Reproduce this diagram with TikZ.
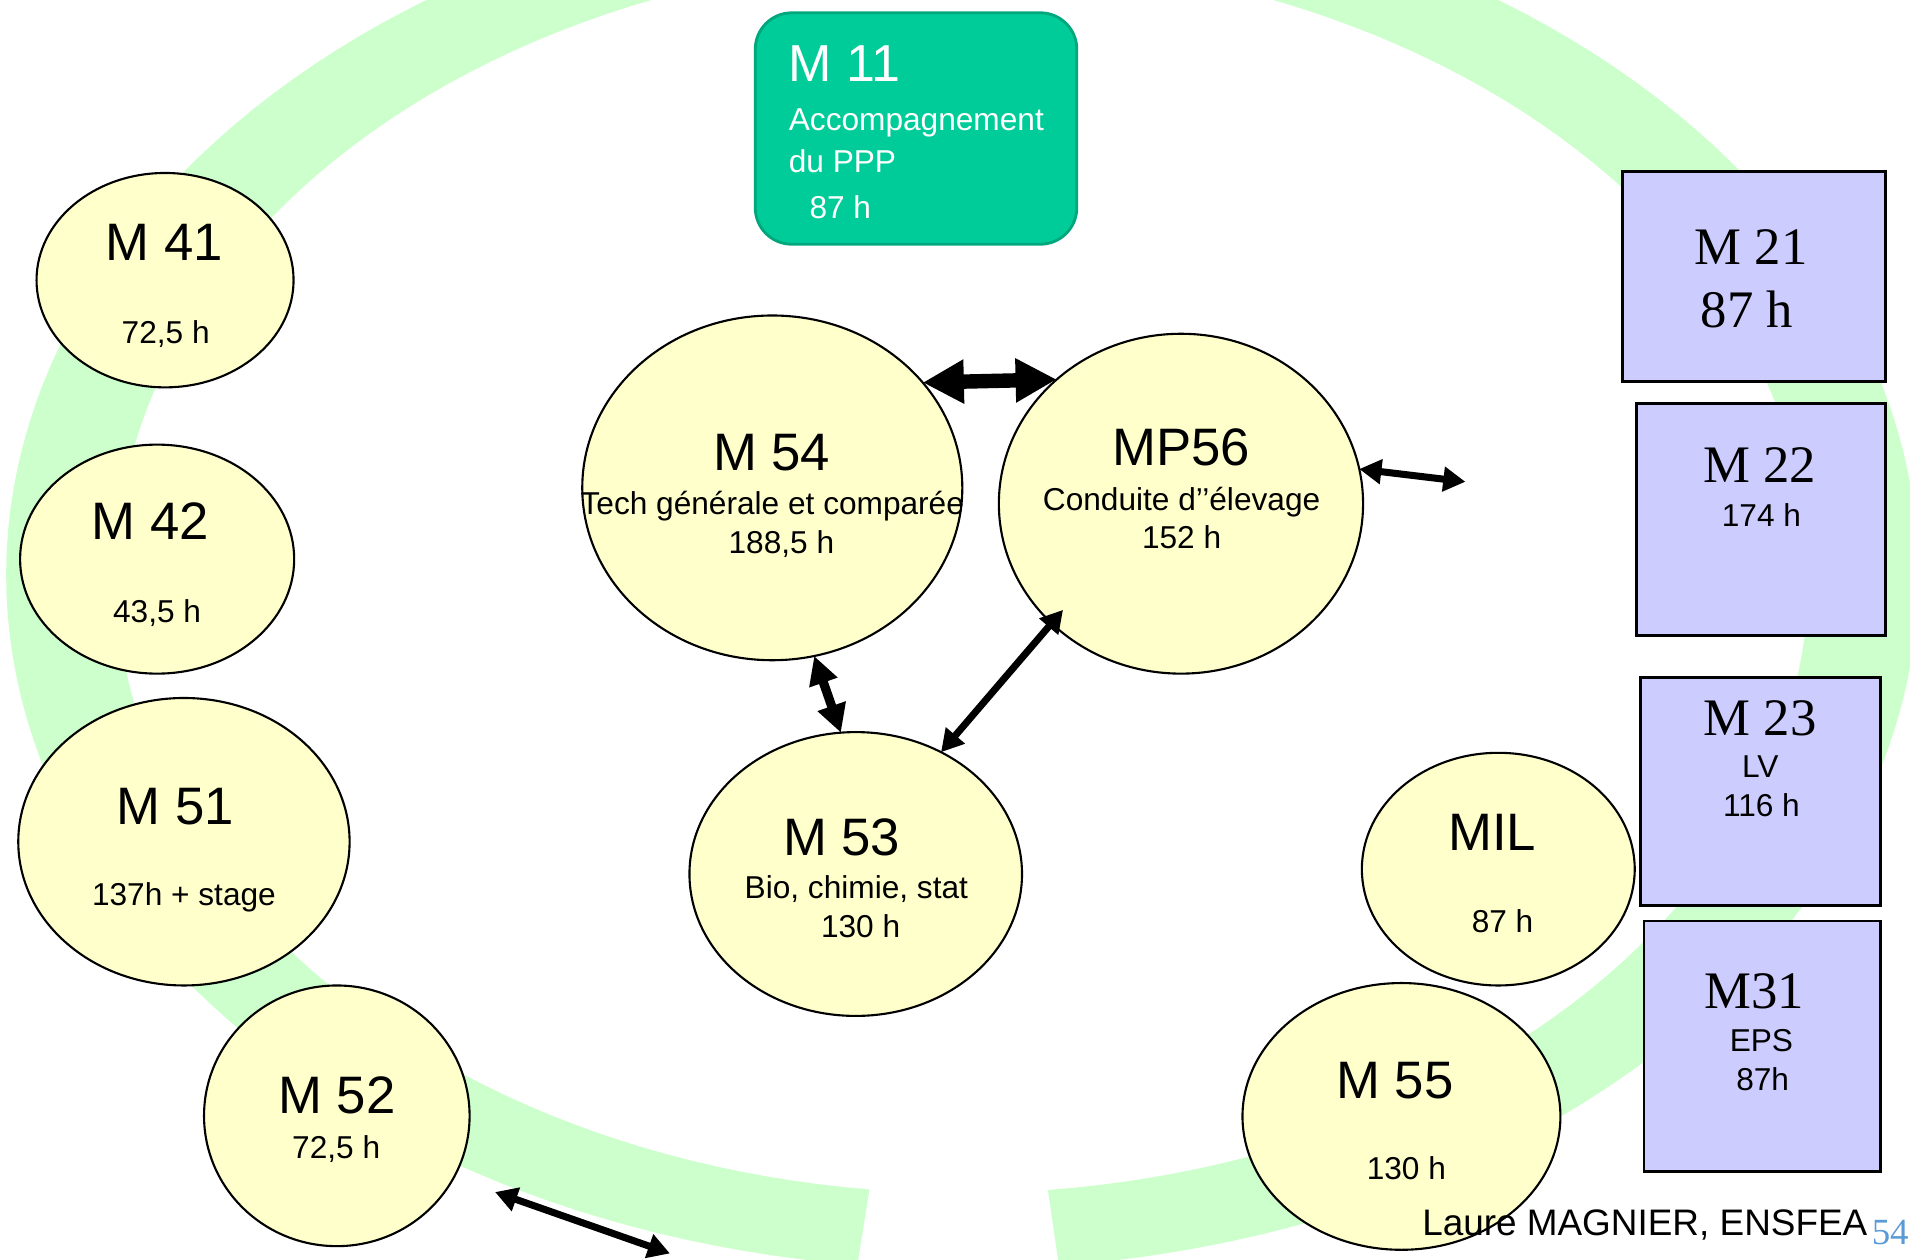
\documentclass[tikz,border=0pt]{standalone}
\usepackage{fontspec}
\setmainfont{Liberation Sans}
\newfontfamily\timesfam{Liberation Serif}
\usetikzlibrary{arrows.meta,shapes.geometric,calc}
\definecolor{ringgreen}{HTML}{CCFFCC}
\definecolor{ellfill}{HTML}{FFFFCC}
\definecolor{boxfill}{HTML}{CCCCFF}
\definecolor{mfill}{HTML}{00CC99}
\definecolor{mborder}{HTML}{00A67C}
\definecolor{pagenum}{HTML}{5B9BD5}
\tikzset{
  modell/.style 2 args={ellipse, draw=black, line width=0.6pt, fill=ellfill, inner sep=0pt, outer sep=0pt,
    minimum width={2*#1*0.1218mm}, minimum height={2*#2*0.1218mm}},
  modbox/.style 2 args={rectangle, draw=black, line width=0.8pt, fill=boxfill, inner sep=0pt, outer sep=0pt,
    minimum width={#1*0.1218mm}, minimum height={#2*0.1218mm}},
  bigt/.style={anchor=base, inner sep=0pt, font=\fontsize{15}{18}\selectfont},
  smallt/.style={anchor=base, inner sep=0pt, font=\fontsize{9}{11}\selectfont},
  serift/.style={anchor=base, inner sep=0pt, font=\timesfam\fontsize{15}{18}\selectfont},
  whitet/.style={anchor=base west, inner sep=0pt, text=white},
  thickarrow/.style={line width=4.1pt, {Triangle[length=11.7pt,width=11.8pt]}-{Triangle[length=11.7pt,width=11.8pt]}},
  medarrow/.style={line width=2pt, {Triangle[length=6.3pt,width=6.8pt]}-{Triangle[length=6.3pt,width=6.8pt]}},
  med3arrow/.style={line width=2.6pt, {Triangle[length=8pt,width=8pt]}-{Triangle[length=8pt,width=8pt]}},
}
\begin{document}
\begin{tikzpicture}[x=0.1218mm,y=-0.1218mm]
\clip (0,0) rectangle (1568,1034);
\fill[white] (0,0) rectangle (1568,1034);
% ring
\fill[ringgreen] plot[domain=96.3:444.2, samples=200, variable=\t] ({790+695*cos(\t)},{472+507.5*sin(\t)})
  -- plot[domain=444.2:96.3, samples=200, variable=\t] ({790+785*cos(\t)},{472+570*sin(\t)}) -- cycle;

% M11
\node[rectangle, rounded corners=3.65mm, fill=mfill, draw=mborder, line width=0.8pt,
  minimum width={264*0.1218mm}, minimum height={190*0.1218mm}, inner sep=0pt] (m11) at (752,105.5) {};
\node[whitet, font=\fontsize{14.8}{17}\selectfont] (m11a) at (647,67) {M 11};
\node[whitet, font=\fontsize{9}{11}\selectfont] (m11b) at (647,107) {Accompagnement};
\node[whitet, font=\fontsize{9}{11}\selectfont] (m11c) at (647,142) {du PPP};
\node[whitet, font=\fontsize{9}{11}\selectfont] (m11d) at (664,179) {87 h};

% ellipses
\node[modell={105.5}{88}] (m41) at (135.5,230) {};
\node[modell={112.5}{94}] (m42) at (129,459) {};
\node[modell={136}{118}] (m51) at (151,691) {};
\node[modell={109}{107}] (m52) at (276.5,916) {};
\node[modell={156}{141.5}] (m54) at (634,400.5) {};
\node[modell={149.5}{139.5}] (m56) at (969.5,413.5) {};
\node[modell={136.5}{116.5}] (m53) at (702.5,717.5) {};
\node[modell={112}{95.5}] (mil) at (1230,713.5) {};
\node[modell={130.5}{109.5}] (m55) at (1150.5,916.5) {};

% boxes
\node[modbox={215.6}{172}] (m21) at (1440,227) {};
\node[modbox={204.6}{190}] (m22) at (1445.5,426.5) {};
\node[modbox={197}{187.5}] (m23) at (1445.5,649.7) {};
\node[modbox={194.4}{205.4}] (m31) at (1446.8,858.7) {};

% texts in ellipses
\node[bigt] (t41a) at (135,214) {M 41};
\node[smallt] (t41b) at (136,282) {72,5 h};
\node[bigt] (t42a) at (123.5,443) {M 42};
\node[smallt] (t42b) at (129,511) {43,5 h};
\node[bigt] (t51a) at (144,676.5) {M 51};
\node[smallt] (t51b) at (151,743) {137h + stage};
\node[bigt] (t52a) at (276.5,914.5) {M 52};
\node[smallt] (t52b) at (276,951) {72,5 h};
\node[bigt] (t54a) at (633.5,386) {M 54};
\node[smallt] (t54b) at (634,422) {Tech générale et comparée};
\node[smallt] (t54c) at (641.5,454) {188,5 h};
\node[bigt] (t56a) at (969.5,382.5) {MP56};
\node[smallt] (t56b) at (970,419) {Conduite d’’élevage};
\node[smallt] (t56c) at (970,450) {152 h};
\node[bigt] (t53a) at (691,702) {M 53};
\node[smallt] (t53b) at (703,737.5) {Bio, chimie, stat};
\node[smallt] (t53c) at (706.5,769.5) {130 h};
\node[bigt] (tmila) at (1225,698) {MIL};
\node[smallt] (tmilb) at (1233.5,765.5) {87 h};
\node[bigt] (t55a) at (1145,901.5) {M 55};
\node[smallt] (t55b) at (1154.5,968.5) {130 h};

% texts in boxes
\node[serift] (t21a) at (1437.5,217.5) {M 21};
\node[serift] (t21b) at (1434,268.5) {87 h};
\node[serift] (t22a) at (1444.5,396) {M 22};
\node[smallt] (t22b) at (1446,432) {174 h};
\node[serift] (t23a) at (1445,603.5) {M 23};
\node[smallt] (t23b) at (1445,638.5) {LV};
\node[smallt] (t23c) at (1446,670) {116 h};
\node[serift] (t31a) at (1440,827.5) {M31};
\node[smallt] (t31b) at (1446,863) {EPS};
\node[smallt] (t31c) at (1447,895) {87h};

% connectors
\coordinate (fr1) at (1203,395.5);
\coordinate (b1) at (406.4,978.6);
\coordinate (b2) at (550,1029);
\draw[thickarrow] (m54.35) -- (m56.135);
\draw[medarrow] (m56.11) -- (fr1);
\draw[med3arrow] (m54.-76) -- (m53.96);
\draw[medarrow] (m53.55) -- ($(m56.center)!0.9!(m56.222)$);
\draw[medarrow] (b1) -- (b2);

% footer
\node[anchor=base west, inner sep=0pt, font=\fontsize{10.5}{12}\selectfont] (auth) at (1167,1014.5) {Laure MAGNIER, ENSFEA};
\node[anchor=base west, inner sep=0pt, text=pagenum, font=\timesfam\fontsize{10.5}{12}\selectfont] (pnum) at (1536,1021.5) {54};
\end{tikzpicture}
\end{document}
